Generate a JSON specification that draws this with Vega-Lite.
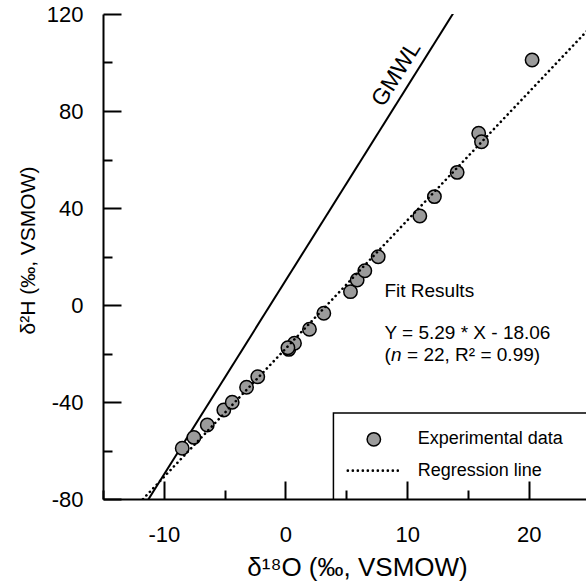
{
  "$schema": "https://vega.github.io/schema/vega-lite/v6.json",
  "autosize": "none",
  "width": 483,
  "height": 485,
  "padding": {"left": 103, "top": 14, "right": 0, "bottom": 88},
  "background": "white",
  "config": {
    "view": {"stroke": null},
    "font": "Liberation Sans",
    "text": {"font": "Liberation Sans", "color": "black"}
  },
  "datasets": {
    "pts": [
      {"x": -8.49, "y": -59.1}, {"x": -7.53, "y": -54.6}, {"x": -6.43, "y": -49.5},
      {"x": -5.07, "y": -43.3}, {"x": -4.38, "y": -40.1}, {"x": -3.2, "y": -33.9},
      {"x": -2.28, "y": -29.6}, {"x": 0.27, "y": -18.3}, {"x": 0.74, "y": -15.8},
      {"x": 1.97, "y": -10.0}, {"x": 3.15, "y": -3.4}, {"x": 5.34, "y": 5.5},
      {"x": 5.89, "y": 10.3}, {"x": 6.52, "y": 14.1}, {"x": 7.62, "y": 19.9},
      {"x": 11.04, "y": 36.7}, {"x": 12.24, "y": 44.7}, {"x": 14.11, "y": 54.7},
      {"x": 15.88, "y": 70.8}, {"x": 16.11, "y": 67.3}, {"x": 20.27, "y": 101.0},
      {"x": 0.2, "y": -17.6}
    ],
    "gmwl": [{"x": -12, "y": -86}, {"x": 14.5, "y": 126}],
    "reg": [{"x": -12, "y": -81.54}, {"x": 25, "y": 114.19}],
    "legbox": [{"x": 3.94, "x2": 30, "y": -44.5, "y2": -90}],
    "legpt": [{"x": 7.26, "y": -55.4}],
    "legline": [{"x": 5.12, "y": -68.3}, {"x": 9.23, "y": -68.3}],
    "legtext": [
      {"x": 10.87, "y": -55.4, "t": "Experimental data"},
      {"x": 10.87, "y": -68.3, "t": "Regression line"}
    ],
    "fit": [
      {"x": 8.13, "y": 5.9, "t": "Fit Results"},
      {"x": 8.13, "y": -11.7, "t": "Y = 5.29 * X - 18.06"},
      {"x": 8.13, "y": -20.6, "t": "("},
      {"x": 9.99, "y": -20.6, "t": "= 22, R² = 0.99)"}
    ],
    "fitn": [{"x": 8.67, "y": -20.6, "t": "n"}],
    "gmwltext": [{"x": 9.12, "y": 95.3, "t": "GMWL"}]
  },
  "resolve": {"axis": {"x": "independent", "y": "independent"}},
  "layer": [
    {
      "encoding": {
        "x": {
          "field": "x", "type": "quantitative",
          "scale": {"domain": [-15, 24.7], "nice": false, "zero": false},
          "axis": {
            "orient": "bottom",
            "values": [-10, 0, 10, 20],
            "labelExpr": "'' + datum.value",
            "ticks": false,
            "labelPadding": 25,
            "labelFont": "Liberation Sans", "labelFontSize": 22, "labelColor": "black",
            "domainColor": "black", "domainWidth": 2,
            "grid": false, "zindex": 1,
            "title": "δ¹⁸O (‰, VSMOW)",
            "titleFont": "Liberation Sans", "titleFontSize": 26, "titleFontWeight": "normal", "titleColor": "black",
            "titleX": 254, "titleY": 68, "titleBaseline": "middle", "titleAlign": "center"
          }
        },
        "y": {
          "field": "y", "type": "quantitative",
          "scale": {"domain": [-80, 120], "nice": false, "zero": false},
          "axis": {
            "orient": "left",
            "values": [-80, -40, 0, 40, 80, 120],
            "labelExpr": "'' + datum.value",
            "ticks": false,
            "labelPadding": 20,
            "labelFont": "Liberation Sans", "labelFontSize": 22, "labelColor": "black",
            "domainColor": "black", "domainWidth": 2,
            "grid": false, "zindex": 1,
            "title": "δ²H (‰, VSMOW)",
            "titleFont": "Liberation Sans", "titleFontSize": 21, "titleFontWeight": "normal", "titleColor": "black",
            "titleX": -75, "titleY": 236, "titleBaseline": "middle", "titleAlign": "center", "titleAngle": -90
          }
        }
      },
      "layer": [
        {"mark": {"type": "rule", "color": "black", "strokeWidth": 2}, "encoding": {"y": {"datum": 120}, "x": {"datum": -15}, "x2": {"datum": 24.7}}},
        {"data": {"name": "gmwl"}, "mark": {"type": "line", "color": "black", "strokeWidth": 2, "clip": true}},
        {"data": {"name": "pts"}, "mark": {"type": "point", "shape": "circle", "filled": true, "fill": "#9b9b9b", "stroke": "black", "strokeWidth": 1.5, "size": 180, "opacity": 1}},
        {"data": {"name": "reg"}, "mark": {"type": "line", "color": "black", "strokeWidth": 2.6, "strokeDash": [0.1, 4.9], "strokeCap": "round", "clip": true}},
        {"data": {"name": "legbox"}, "mark": {"type": "rect", "fill": null, "fillOpacity": 0, "stroke": "black", "strokeWidth": 1.5, "clip": true},
         "encoding": {"x2": {"field": "x2"}, "y2": {"field": "y2"}}},
        {"data": {"name": "legpt"}, "mark": {"type": "point", "shape": "circle", "filled": true, "fill": "#9b9b9b", "stroke": "black", "strokeWidth": 1.5, "size": 180, "opacity": 1}},
        {"data": {"name": "legline"}, "mark": {"type": "line", "color": "black", "strokeWidth": 2.6, "strokeDash": [0.1, 4.9], "strokeCap": "round"}},
        {"data": {"name": "legtext"}, "mark": {"type": "text", "align": "left", "baseline": "middle", "fontSize": 18, "font": "Liberation Sans"}, "encoding": {"text": {"field": "t"}}},
        {"data": {"name": "fit"}, "mark": {"type": "text", "align": "left", "baseline": "middle", "fontSize": 19, "font": "Liberation Sans"}, "encoding": {"text": {"field": "t"}}},
        {"data": {"name": "fitn"}, "mark": {"type": "text", "align": "left", "baseline": "middle", "fontSize": 19, "fontStyle": "italic", "font": "Liberation Sans"}, "encoding": {"text": {"field": "t"}}},
        {"data": {"name": "gmwltext"}, "mark": {"type": "text", "align": "center", "baseline": "middle", "fontSize": 23, "angle": -57.9, "font": "Liberation Sans"}, "encoding": {"text": {"field": "t"}}}
      ]
    },
    {
      "data": {"name": "pts"},
      "mark": {"type": "point", "opacity": 0},
      "encoding": {
        "x": {
          "field": "x", "type": "quantitative",
          "scale": {"domain": [-15, 24.7], "nice": false, "zero": false},
          "axis": {
            "orient": "bottom", "offset": -18,
            "values": [-10, 0, 10, 20],
            "tickSize": 18, "labels": false, "domain": false, "title": null,
            "tickColor": "black", "tickWidth": 2, "grid": false, "zindex": 1
          }
        },
        "y": {
          "field": "y", "type": "quantitative",
          "scale": {"domain": [-80, 120], "nice": false, "zero": false},
          "axis": {
            "orient": "left", "offset": -18,
            "values": [-80, -40, 0, 40, 80, 120],
            "tickSize": 18, "labels": false, "domain": false, "title": null,
            "tickColor": "black", "tickWidth": 2, "grid": false, "zindex": 1
          }
        }
      }
    },
    {
      "data": {"name": "pts"},
      "mark": {"type": "point", "opacity": 0},
      "encoding": {
        "x": {
          "field": "x", "type": "quantitative",
          "scale": {"domain": [-15, 24.7], "nice": false, "zero": false},
          "axis": {
            "orient": "bottom", "offset": -9,
            "values": [-15, -5, 5, 15],
            "tickSize": 9, "labels": false, "domain": false, "title": null,
            "tickColor": "black", "tickWidth": 2, "grid": false, "zindex": 1
          }
        },
        "y": {
          "field": "y", "type": "quantitative",
          "scale": {"domain": [-80, 120], "nice": false, "zero": false},
          "axis": {
            "orient": "left", "offset": -9,
            "values": [-60, -20, 20, 60, 100],
            "tickSize": 9, "labels": false, "domain": false, "title": null,
            "tickColor": "black", "tickWidth": 2, "grid": false, "zindex": 1
          }
        }
      }
    }
  ]
}
